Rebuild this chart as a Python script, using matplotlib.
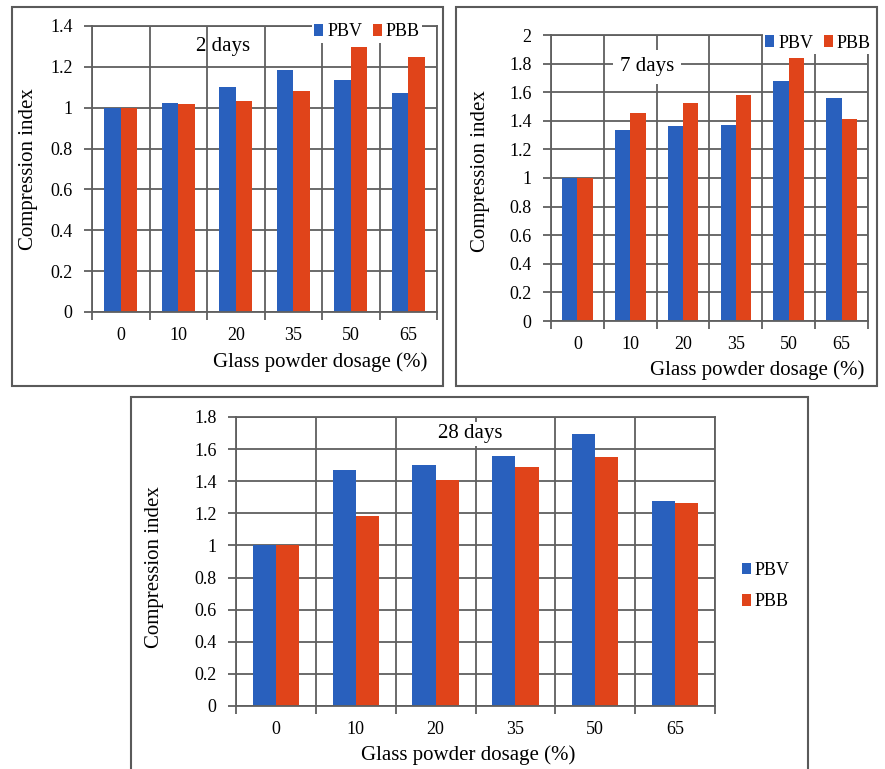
import matplotlib
matplotlib.use("Agg")
import matplotlib.pyplot as plt
from matplotlib.patches import Rectangle
from matplotlib.ticker import FixedLocator, FuncFormatter

plt.rcParams["font.family"] = ["Liberation Serif", "DejaVu Serif"]

# Data
dosage = ["0", "10", "20", "35", "50", "65"]

pbv_2d = [1.00, 1.023, 1.10, 1.185, 1.136, 1.074]
pbb_2d = [1.00, 1.016, 1.033, 1.082, 1.296, 1.247]

pbv_7d = [1.00, 1.333, 1.364, 1.373, 1.681, 1.562]
pbb_7d = [1.00, 1.452, 1.522, 1.580, 1.839, 1.413]

pbv_28d = [1.00, 1.469, 1.504, 1.556, 1.692, 1.275]
pbb_28d = [1.00, 1.185, 1.406, 1.488, 1.548, 1.265]

BLUE = "#2960bd"
ORANGE = "#e0441a"
GRID = "#5f5f5f"
W, H = 885, 769

fig = plt.figure(figsize=(W / 100, H / 100), dpi=100)


def px_axes(left, top, right, bottom):
    # axes from pixel edges (y measured from the top)
    return fig.add_axes([left / W, 1 - bottom / H, (right - left) / W, (bottom - top) / H])


def draw_panel(ax, pbv, pbb, ymax):
    x = list(range(len(dosage)))
    w = 0.29
    ax.bar([i - w / 2 for i in x], pbv, width=w, color=BLUE, label="PBV")
    ax.bar([i + w / 2 for i in x], pbb, width=w, color=ORANGE, label="PBB")
    ax.set_xlim(-0.5, len(dosage) - 0.5)
    ax.set_ylim(0, ymax)
    ax.set_axisbelow(True)
    yt = [round(0.2 * k, 1) for k in range(int(round(ymax / 0.2)) + 1)]
    ax.yaxis.set_major_locator(FixedLocator(yt))
    ax.yaxis.set_major_formatter(FuncFormatter(lambda v, p: f"{v:g}"))
    ax.set_xticks(x)
    ax.set_xticklabels(dosage)
    ax.set_xticks([i - 0.5 for i in range(len(dosage) + 1)], minor=True)
    ax.tick_params(axis="x", which="major", length=0, pad=11, labelsize=13)
    ax.tick_params(axis="x", which="minor", length=6, width=1.3, color=GRID)
    ax.tick_params(axis="y", length=6, width=1.3, color=GRID, pad=8, labelsize=13)
    ax.grid(axis="y", which="major", color=GRID, lw=1.3)
    ax.grid(axis="x", which="minor", color=GRID, lw=1.3)
    for s in ax.spines.values():
        s.set_color(GRID)
        s.set_linewidth(1.3)


def legend_at(ax, cx, cy, ncol):
    return ax.legend(loc="center", bbox_to_anchor=(cx / W, 1 - cy / H),
                     bbox_transform=fig.transFigure, ncol=ncol, fontsize=13,
                     frameon=True, facecolor="white", edgecolor="none", framealpha=1,
                     handlelength=0.5, handleheight=0.6, handletextpad=0.2,
                     columnspacing=0.6, labelspacing=0.8, borderpad=0.15,
                     fancybox=False)


# outer panel frames
for (l, t, r, b) in [(12, 7, 443, 386.5), (456, 7, 877, 386.5), (131, 397, 808, 800)]:
    fig.patches.append(Rectangle((l / W, 1 - b / H), (r - l) / W, (b - t) / H,
                                 transform=fig.transFigure, fill=False,
                                 edgecolor="#5a5a5a", lw=1.5))

# panel 1: 2 days
ax1 = px_axes(92, 26, 437, 312)
draw_panel(ax1, pbv_2d, pbb_2d, 1.4)
legend_at(ax1, 367, 32, 2)
fig.text(223 / W, 1 - 47 / H, "2 days", fontsize=15, ha="center", va="center")
fig.text(320 / W, 1 - 362 / H, "Glass powder dosage (%)", fontsize=15, ha="center", va="center")
fig.text(29 / W, 1 - 169 / H, "Compression index", fontsize=15, rotation=90, ha="center", va="center")

# panel 2: 7 days
ax2 = px_axes(551, 35, 868, 321)
draw_panel(ax2, pbv_7d, pbb_7d, 2.0)
legend_at(ax2, 818, 43, 2)
ax2.text(647 / W, 1 - 67 / H, "7 days", fontsize=15, ha="center", va="center",
         transform=fig.transFigure,
         bbox=dict(boxstyle="square,pad=0.35", facecolor="white", edgecolor="none"))
fig.text(757 / W, 1 - 370 / H, "Glass powder dosage (%)", fontsize=15, ha="center", va="center")
fig.text(480 / W, 1 - 171 / H, "Compression index", fontsize=15, rotation=90, ha="center", va="center")

# panel 3: 28 days
ax3 = px_axes(236, 417, 715, 706)
draw_panel(ax3, pbv_28d, pbb_28d, 1.8)
leg3 = legend_at(ax3, 766, 586, 1)
ax3.text(470 / W, 1 - 434 / H, "28 days", fontsize=15, ha="center", va="center",
         transform=fig.transFigure,
         bbox=dict(boxstyle="square,pad=0.1", facecolor="white", edgecolor="none"))
fig.text(468 / W, 1 - 755 / H, "Glass powder dosage (%)", fontsize=15, ha="center", va="center")
fig.text(155 / W, 1 - 567 / H, "Compression index", fontsize=15, rotation=90, ha="center", va="center")

fig.savefig("out.png", dpi=100)
